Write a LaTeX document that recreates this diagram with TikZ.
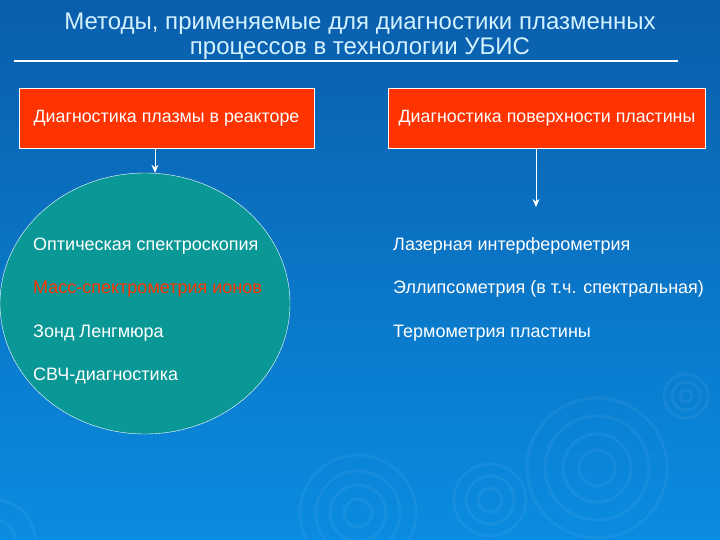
\documentclass[tikz,border=0pt]{standalone}
\usepackage{fontspec}
\setmainfont{Liberation Sans}
\usetikzlibrary{arrows.meta,shapes.geometric}
\definecolor{bgtop}{HTML}{0A5EAC}
\definecolor{bgbot}{HTML}{0A8CE0}
\definecolor{boxred}{HTML}{FF3300}
\definecolor{ovalc}{HTML}{0A9896}
\definecolor{titlec}{HTML}{D2F2FF}
\begin{document}
\begin{tikzpicture}[x=1pt,y=-1pt,
    item/.style={anchor=west,text=white,inner sep=0pt,font=\fontsize{18}{20}\selectfont},
    head/.style={draw=white,fill=boxred,text=white,minimum height=60pt,inner sep=0pt,font=\fontsize{17.8}{20}\selectfont},
    ripple/.style={draw=white,opacity=0.05,line width=3pt}]
  \useasboundingbox (0,0) rectangle (720,540);
  \shade[top color=bgtop,bottom color=bgbot] (0,0) rectangle (720,540);
  \foreach \r in {18,34,52,70} \draw[ripple] (597,468) circle (\r);
  \foreach \r in {14,28,42,58} \draw[ripple] (358,513) circle (\r);
  \foreach \r in {12,24,36} \draw[ripple] (490,500) circle (\r);
  \foreach \r in {6,14,22} \draw[ripple] (686,396) circle (\r);
  \foreach \r in {20,40} \draw[ripple] (-5,540) circle (\r);
  \node (title) at (360,36) [align=center,text=titlec,font=\fontsize{24}{24.5}\selectfont]
    {Методы, применяемые для диагностики плазменных\\процессов в технологии УБИС};
  \coordinate (ul1) at (14,61);
  \coordinate (ul2) at (678,61);
  \draw[white,line width=2.5pt] (ul1) -- (ul2);
  \node (plasma) at (166.5,118) [head,minimum width=295pt] {Диагностика плазмы в реакторе};
  \node (surface) at (547,118) [head,minimum width=317pt] {Диагностика поверхности пластины};
  \node (oval) at (145,303.5) [ellipse,draw=white,fill=ovalc,minimum width=290pt,minimum height=261pt,inner sep=0pt] {};
  \coordinate (stop) at (536,207);
  \begin{scope}[white,thick,-{Stealth[length=8pt,width=7pt]}]
    \draw (plasma.south -| 155,0) to (oval.north -| 155,0);
    \draw (surface.south -| stop) to (stop);
  \end{scope}
  \node (l1) at (33,246) [item] {Оптическая спектроскопия};
  \node (l2) at (33,289) [item,text=boxred] {Масс-спектрометрия ионов};
  \node (l3) at (33,333) [item] {Зонд Ленгмюра};
  \node (l4) at (33,376) [item] {СВЧ-диагностика};
  \node (r1) at (393,246) [item] {Лазерная интерферометрия};
  \node (r2) at (393,289) [item] {Эллипсометрия (в т.ч. спектральная)};
  \node (r3) at (393,333) [item] {Термометрия пластины};
\end{tikzpicture}
\end{document}
